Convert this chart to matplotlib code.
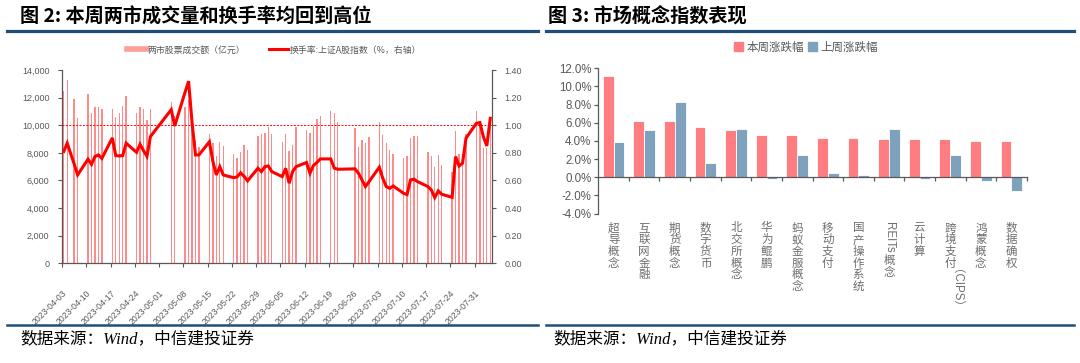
import matplotlib
matplotlib.use('Agg')
import matplotlib.pyplot as plt
import matplotlib.dates as mdates
import matplotlib.transforms as mtransforms
import numpy as np
import pandas as pd
from matplotlib.lines import Line2D
from matplotlib.patches import Patch
from matplotlib.ticker import FuncFormatter, MultipleLocator

plt.rcParams['font.family'] = ['Liberation Sans', 'Noto Sans CJK SC', 'DejaVu Sans']

# ---------------- data: left chart ----------------
trade_dates = [
    '2023-04-03', '2023-04-04', '2023-04-06', '2023-04-07',
    '2023-04-10', '2023-04-11', '2023-04-12', '2023-04-13', '2023-04-14',
    '2023-04-17', '2023-04-18', '2023-04-19', '2023-04-20', '2023-04-21',
    '2023-04-24', '2023-04-25', '2023-04-26', '2023-04-27', '2023-04-28',
    '2023-05-04', '2023-05-05',
    '2023-05-08', '2023-05-09', '2023-05-10', '2023-05-11', '2023-05-12',
    '2023-05-15', '2023-05-16', '2023-05-17', '2023-05-18', '2023-05-19',
    '2023-05-22', '2023-05-23', '2023-05-24', '2023-05-25', '2023-05-26',
    '2023-05-29', '2023-05-30', '2023-05-31', '2023-06-01', '2023-06-02',
    '2023-06-05', '2023-06-06', '2023-06-07', '2023-06-08', '2023-06-09',
    '2023-06-12', '2023-06-13', '2023-06-14', '2023-06-15', '2023-06-16',
    '2023-06-19', '2023-06-20', '2023-06-21',
    '2023-06-26', '2023-06-27', '2023-06-28', '2023-06-29', '2023-06-30',
    '2023-07-03', '2023-07-04', '2023-07-05', '2023-07-06', '2023-07-07',
    '2023-07-10', '2023-07-11', '2023-07-12', '2023-07-13', '2023-07-14',
    '2023-07-17', '2023-07-18', '2023-07-19', '2023-07-20', '2023-07-21',
    '2023-07-24', '2023-07-25', '2023-07-26', '2023-07-27', '2023-07-28',
    '2023-07-31', '2023-08-01', '2023-08-02', '2023-08-03', '2023-08-04',
]
volume = [
    12450, 13250, 11900, 10550,
    12250, 10850, 11300, 11350, 11150,
    11150, 10600, 10850, 11400, 12150,
    10850, 11300, 11200, 10400, 11150,
    11700, 10700,
    11350, 11800, 10500, 8950, 8450,
    9400, 8700, 7800, 8800, 8500,
    7950, 7600, 8050, 8600, 8200,
    9250, 9350, 9450, 9900, 9400,
    8750, 9400, 8150, 8600, 9900,
    9650, 9450, 9950, 10450, 10700,
    11050, 10900, 10200,
    9800, 8450, 8900, 8700, 9150,
    10250, 9300, 8700, 8200, 7950,
    7650, 7800, 9100, 9200, 9200,
    8050, 7800, 7000, 7850, 7100,
    6600, 9550, 7950, 7900, 9400,
    11050, 10000, 8350, 8350, 10500,
]
turnover = [
    0.81, 0.87, 0.72, 0.64,
    0.754, 0.717, 0.773, 0.785, 0.76,
    0.908, 0.78, 0.778, 0.78, 0.87,
    0.804, 0.862, 0.816, 0.775, 0.918,
    1.113, 0.995,
    1.24, 1.319, 1.02, 0.785, 0.785,
    0.88, 0.74, 0.64, 0.70, 0.64,
    0.62, 0.626, 0.655, 0.63, 0.597,
    0.688, 0.664, 0.70, 0.705, 0.664,
    0.628, 0.688, 0.58, 0.664, 0.70,
    0.73, 0.652, 0.708, 0.73, 0.756,
    0.756, 0.69, 0.681,
    0.684, 0.652, 0.604, 0.556, 0.59,
    0.696, 0.616, 0.556, 0.543, 0.56,
    0.507, 0.498, 0.604, 0.609, 0.592,
    0.556, 0.531, 0.476, 0.524, 0.50,
    0.478, 0.773, 0.705, 0.725, 0.906,
    1.014, 1.019, 0.918, 0.85, 1.05,
]
tick_weeks = pd.date_range('2023-04-03', '2023-07-31', freq='7D')
vol_label = '两市股票成交额（亿元）'
turn_label = '换手率:上证A股指数（%，右轴）'

# ---------------- data: right chart ----------------
concepts = ['超导概念', '互联网金融', '期货概念', '数字货币', '北交所概念', '华为鲲鹏',
            '蚂蚁金服概念', '移动支付', '国产操作系统', 'REITs概念', '云计算',
            '跨境支付（CIPS）', '鸿蒙概念', '数据确权']
this_week = [11.2, 6.2, 6.15, 5.55, 5.25, 4.7, 4.7, 4.35, 4.33, 4.22, 4.2, 4.18, 4.03, 4.02]
last_week = [3.9, 5.25, 8.25, 1.6, 5.35, -0.15, 2.45, 0.45, 0.25, 5.3, -0.22, 2.45, -0.37, -1.55]
series_names = ['本周涨跌幅', '上周涨跌幅']

title_left = '图 2: 本周两市成交量和换手率均回到高位'
title_right = '图 3: 市场概念指数表现'
source = '数据来源：Wind，中信建投证券'

# ---------------- figure ----------------
W, H = 1080, 363
fig = plt.figure(figsize=(W / 100, H / 100), dpi=100)
fig.patch.set_facecolor('white')

def fx(px):
    return px / W

def fy(py):
    return 1 - py / H

GRAY = '#595959'
NAVY = '#1F4E79'
CJK = ['Noto Sans CJK SC', 'DejaVu Sans']

# headers and rules
fig.text(fx(20), fy(17), title_left, fontsize=13.8, fontweight='bold', family=CJK,
         ha='left', va='center', color='black')
fig.text(fx(548), fy(17), title_right, fontsize=13.8, fontweight='bold', family=CJK,
         ha='left', va='center', color='black')
for xa, xb in [(7, 538), (546, 1074)]:
    fig.add_artist(Line2D([fx(xa), fx(xb)], [fy(31), fy(31)], color=NAVY, lw=2.3,
                          transform=fig.transFigure))
    fig.add_artist(Line2D([fx(xa), fx(xb)], [fy(325), fy(325)], color=NAVY, lw=1.8,
                          transform=fig.transFigure))
fig.text(fx(20), fy(339), source, fontsize=12, style='italic',
         family=['Liberation Serif', 'Noto Sans CJK SC'], ha='left', va='center', color='black')
fig.text(fx(553), fy(339), source, fontsize=12, style='italic',
         family=['Liberation Serif', 'Noto Sans CJK SC'], ha='left', va='center', color='black')

# ---------------- left chart ----------------
ax1 = fig.add_axes([fx(62), fy(263.3), fx(492) - fx(62), (263.3 - 70) / H])
dn = mdates.date2num(pd.to_datetime(trade_dates))
ax1.bar(dn, volume, width=0.4, color='#FF8A8A', linewidth=0, zorder=2)
ax1.set_xlim(dn[0] - 0.5, dn[-1] + 0.5)
ax1.set_ylim(0, 14000)
ax1.yaxis.set_major_locator(MultipleLocator(2000))
ax1.yaxis.set_major_formatter(FuncFormatter(lambda v, p: f'{v:,.0f}'))
ax1.set_xticks(mdates.date2num(tick_weeks) - 0.5)
ax1.set_xticklabels([d.strftime('%Y-%m-%d') for d in tick_weeks], rotation=45,
                    ha='right', va='top', rotation_mode='anchor', fontsize=6.2, color=GRAY)
ax1.tick_params(axis='x', length=3, width=0.8, color=GRAY, pad=15)
ax1.tick_params(axis='y', length=3, width=0.8, color=GRAY, labelsize=6.5, labelcolor=GRAY, pad=6)
for s in ['top', 'right']:
    ax1.spines[s].set_visible(False)
for s in ['left', 'bottom']:
    ax1.spines[s].set_color(GRAY)
    ax1.spines[s].set_linewidth(0.9)

ax2 = ax1.twinx()
ax2.plot(dn, turnover, color='#FF0000', lw=2.2, solid_joinstyle='miter', zorder=3)
ax2.axhline(1.0, color='#FF0000', lw=0.7, ls=(0, (2, 1.5)), zorder=2)
ax2.set_ylim(0, 1.4)
ax2.yaxis.set_major_locator(MultipleLocator(0.2))
ax2.yaxis.set_major_formatter(FuncFormatter(lambda v, p: f'{v:.2f}'))
ax2.tick_params(axis='y', length=3, width=0.8, color=GRAY, labelsize=6.5, labelcolor=GRAY, pad=6)
for s in ['top', 'left', 'bottom']:
    ax2.spines[s].set_visible(False)
ax2.spines['right'].set_color(GRAY)
ax2.spines['right'].set_linewidth(0.9)

leg1 = fig.legend(handles=[Line2D([], [], color='#FF9C9C', lw=4),
                           Line2D([], [], color='#FF0000', lw=2.2)],
                  labels=[vol_label, turn_label], loc='center', ncol=2,
                  bbox_to_anchor=(fx(274), fy(50)), frameon=False,
                  handlelength=2.2, handletextpad=0.15, columnspacing=2.6,
                  prop={'family': CJK, 'size': 6.4})
for t in leg1.get_texts():
    t.set_color(GRAY)

# ---------------- right chart ----------------
ax3 = fig.add_axes([fx(598.3), fy(213.5), fx(1026.7) - fx(598.3), (213.5 - 68.3) / H])
x = np.arange(len(concepts))
ax3.bar(x - 0.175, this_week, 0.35, color='#FF7C80', edgecolor='white', linewidth=0.6,
        zorder=2)
ax3.bar(x + 0.175, last_week, 0.35, color='#7EA1BE', edgecolor='white', linewidth=0.6,
        zorder=2)
ax3.set_xlim(-0.5, len(concepts) - 0.5)
ax3.set_ylim(-4, 12)
ax3.yaxis.set_major_locator(MultipleLocator(2))
ax3.yaxis.set_major_formatter(FuncFormatter(lambda v, p: f'{v:.1f}%'))
ax3.spines['bottom'].set_position(('data', 0))
ax3.set_xticks(x + 0.5)
ax3.tick_params(axis='x', length=3, width=0.9, color=GRAY, labelbottom=False)
ax3.tick_params(axis='y', length=3, width=0.9, color=GRAY, labelsize=8.3, labelcolor=GRAY, pad=2)
for s in ['top', 'right']:
    ax3.spines[s].set_visible(False)
for s in ['left', 'bottom']:
    ax3.spines[s].set_color(GRAY)
    ax3.spines[s].set_linewidth(0.9)

leg3 = fig.legend(handles=[Patch(color='#FF7C80'), Patch(color='#7EA1BE')],
                  labels=series_names, loc='center', ncol=2,
                  bbox_to_anchor=(fx(806), fy(47)), frameon=False,
                  handlelength=0.75, handleheight=0.75, handletextpad=0.3, columnspacing=0.4,
                  prop={'family': CJK, 'size': 8.3})
for t in leg3.get_texts():
    t.set_color(GRAY)

# vertical category labels (stacked characters, latin runs rotated)
renderer = fig.canvas.get_renderer()
ident = mtransforms.IdentityTransform()
LABEL_COLOR = '#6E6E6E'
for i, name in enumerate(concepts):
    xd = ax3.transData.transform((i, 0))[0]
    yd = ax3.bbox.y0 - 8
    runs = []
    for ch in name:
        if '\u4e00' <= ch <= '\u9fff':
            runs.append(('cjk', ch))
        elif runs and runs[-1][0] == 'lat':
            runs[-1] = ('lat', runs[-1][1] + ch)
        else:
            runs.append(('lat', ch))
    for kind, s in runs:
        if kind == 'cjk':
            fig.text(xd, yd, s, transform=ident, ha='center', va='top', fontsize=8.3,
                     family=CJK, color=LABEL_COLOR)
            yd -= 11.7
        else:
            t = fig.text(xd, yd - 1, s, transform=ident, ha='center', va='top', rotation=-90,
                         fontsize=8.3, family=['Liberation Sans', 'Noto Sans CJK SC'],
                         color=LABEL_COLOR)
            ext = t.get_window_extent(renderer=renderer)
            yd -= ext.height + 2

fig.savefig('out.png', dpi=100, facecolor='white')
